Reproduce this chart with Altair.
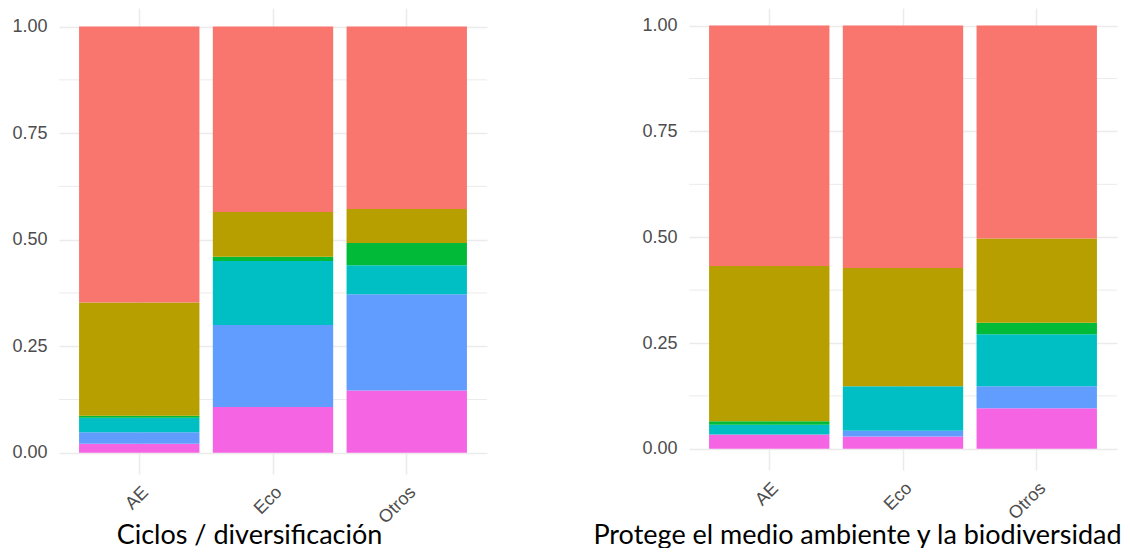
import altair as alt
import pandas as pd

# x categories
categories = ["AE", "Eco", "Otros"]
# response levels, listed from bottom of the stack to the top
levels = ["Nivel 6", "Nivel 5", "Nivel 4", "Nivel 3", "Nivel 2", "Nivel 1"]
level_colors = ["#F564E3", "#619CFF", "#00BFC4", "#00BA38", "#B79F00", "#F8766D"]

# Panel 1: "Ciclos / diversificación" (shares, bottom -> top)
ciclos_AE = [0.021, 0.027, 0.0345, 0.0045, 0.2655, 0.6475]
ciclos_Eco = [0.1075, 0.1925, 0.150, 0.010, 0.105, 0.435]
ciclos_Otros = [0.146, 0.226, 0.068, 0.052, 0.080, 0.428]

# Panel 2: "Protege el medio ambiente y la biodiversidad"
protege_AE = [0.034, 0.0, 0.023, 0.008, 0.367, 0.568]
protege_Eco = [0.029, 0.014, 0.105, 0.0, 0.279, 0.573]
protege_Otros = [0.096, 0.052, 0.123, 0.027, 0.199, 0.503]

major_ticks = [0.0, 0.25, 0.5, 0.75, 1.0]
minor_ticks = [0.125, 0.375, 0.625, 0.875]

GRID = "#EBEBEB"
LABEL = "#4D4D4D"
TITLE_FONT = "Lato"


def make_df(series):
    rows = []
    for cat, vals in zip(categories, series):
        for i, (lvl, v) in enumerate(zip(levels, vals)):
            rows.append({"cat": cat, "level": lvl, "ord": i, "value": v})
    return pd.DataFrame(rows)


def y_axis():
    return alt.Axis(
        title=None,
        values=major_ticks,
        format=".2f",
        labelFontSize=18,
        labelFont="Liberation Sans",
        labelColor=LABEL,
        labelPadding=12,
        ticks=False,
        domain=False,
        grid=True,
        gridColor=GRID,
        gridWidth=1.5,
    )


def panel(series, title, title_x, title_y, title_size, height, ydomain):
    df = make_df(series)
    yscale = alt.Scale(domain=ydomain, nice=False, zero=False)
    minor = alt.Chart(pd.DataFrame({"yv": minor_ticks})).mark_rule(
        color=GRID, strokeWidth=1
    ).encode(y=alt.Y("yv:Q", scale=yscale, axis=y_axis()))
    bars = alt.Chart(df).mark_bar().encode(
        x=alt.X(
            "cat:N",
            sort=categories,
            scale=alt.Scale(paddingInner=0.1, paddingOuter=0.15),
            axis=alt.Axis(
                title=title,
                labelAngle=-45,
                labelAlign="right",
                labelBaseline="top",
                labelPadding=9,
                labelOffset=0,
                labelFontSize=18,
                labelFont="Liberation Sans",
                labelColor=LABEL,
                ticks=False,
                domain=False,
                grid=True,
                gridColor=GRID,
                gridWidth=1.5,
                bandPosition=0.5,
                titleFont=TITLE_FONT,
                titleFontSize=title_size,
                titleFontWeight="normal",
                titleColor="black",
                titleX=title_x,
                titleY=title_y,
                titleAlign="center",
                titleBaseline="alphabetic",
            ),
        ),
        y=alt.Y("value:Q", stack="normalize", scale=yscale, axis=y_axis()),
        color=alt.Color(
            "level:N", scale=alt.Scale(domain=levels, range=level_colors), legend=None
        ),
        order=alt.Order("ord:Q", sort="ascending"),
    )
    return alt.layer(minor, bars).properties(width=428, height=height)


left = panel([ciclos_AE, ciclos_Eco, ciclos_Otros], "Ciclos / diversificación",
             190, 69, 27, 466, [-0.0497, 1.0436])
right = panel([protege_AE, protege_Eco, protege_Otros],
              "Protege el medio ambiente y la biodiversidad",
              168, 73, 27, 462, [-0.05, 1.0416])

chart = alt.hconcat(left, right, spacing=202, bounds="flush").properties(
    padding={"left": 3, "top": 0, "right": 0, "bottom": 0},
    background="white",
).configure_view(stroke=None)

chart.save("out.html", embed_options={"renderer": "svg", "actions": False})
